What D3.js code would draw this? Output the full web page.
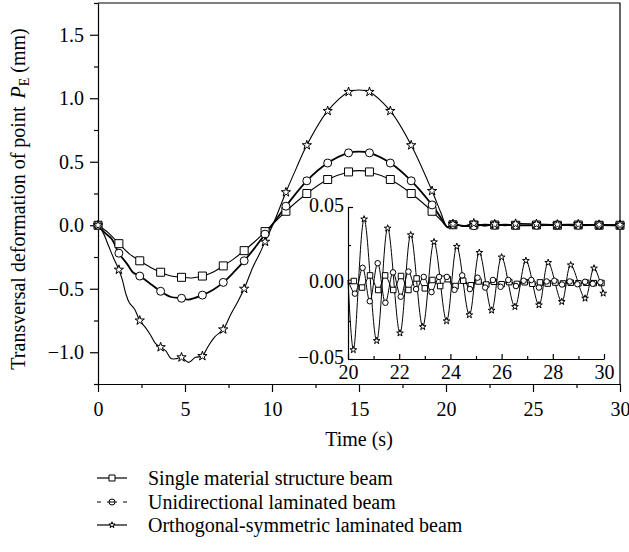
<!DOCTYPE html>
<html>
<head>
<meta charset="utf-8">
<script src="https://cdn.jsdelivr.net/npm/d3@7"></script>
<style>
  body { margin: 0; background: #fff; }
  svg { display: block; font-family: "Liberation Serif", "Times New Roman", serif; }
  .axis path, .axis line { stroke: #000; stroke-width: 1.2; }
  .axis text { font-size: 20px; fill: #000; font-family: "Liberation Serif", serif; }
</style>
</head>
<body>
<svg class="chart" width="629" height="552"></svg>
<script>
// ---- data ----
var seriesNames = [
  "Single material structure beam",
  "Unidirectional laminated beam",
  "Orthogonal-symmetric laminated beam"
];

// times (s) where the main plot carries markers
var markTimes = [0, 1.2, 2.4, 3.6, 4.8, 6.0, 7.2, 8.4, 9.6, 10.8, 12.0, 13.2, 14.4, 15.6,
  16.8, 18.0, 19.2, 20.4, 21.6, 22.8, 24.0, 25.2, 26.4, 27.6, 28.8, 30.0];

// main plot, [time, deformation mm]
var singleLine = [[0,0],[0.6,-0.06],[1.2,-0.145],[1.8,-0.225],[2.4,-0.28],[3.0,-0.33],[3.6,-0.37],
  [4.2,-0.40],[4.8,-0.41],[5.4,-0.415],[6.0,-0.40],[6.6,-0.37],[7.2,-0.32],[7.8,-0.265],[8.4,-0.20],
  [9.0,-0.13],[9.6,-0.05],[10.2,0.03],[10.8,0.11],[12.0,0.25],[13.2,0.36],[14.4,0.42],[15.0,0.43],
  [15.6,0.42],[16.8,0.36],[18.0,0.25],[19.2,0.11],[19.7,0.04],[20.1,-0.015],[20.4,0.004],[21.0,-0.004],
  [21.6,0.003],[22.2,-0.003],[22.8,0.002],[24.0,0.0],[25.2,0.002],[26.4,0.0],[27.6,0.002],[28.8,0.0],[30.0,0.0]];

var uniLine = [[0,0],[0.4,-0.06],[0.8,-0.11],[1.2,-0.22],[1.7,-0.31],[2.0,-0.37],[2.4,-0.40],[3.0,-0.46],
  [3.6,-0.52],[4.2,-0.565],[4.8,-0.575],[5.2,-0.585],[6.0,-0.55],[6.6,-0.51],[7.2,-0.45],[7.8,-0.37],
  [8.4,-0.28],[9.0,-0.18],[9.6,-0.07],[10.2,0.04],[10.8,0.15],[12.0,0.35],[13.2,0.49],[14.4,0.57],
  [15.0,0.58],[15.6,0.57],[16.8,0.49],[18.0,0.35],[19.2,0.16],[19.7,0.06],[20.1,-0.015],[20.4,0.006],
  [21.0,-0.006],[21.6,-0.004],[22.2,0.004],[22.8,0.0],[23.4,0.004],[24.0,0.0],[25.2,0.0],[26.4,0.003],
  [27.6,0.0],[28.8,0.002],[30.0,0.0]];

var orthoLine = [[0,0],[0.3,-0.06],[0.6,-0.16],[0.9,-0.26],[1.2,-0.35],[1.4,-0.43],[1.6,-0.54],[1.8,-0.61],
  [2.1,-0.66],[2.4,-0.75],[2.7,-0.80],[3.0,-0.86],[3.3,-0.93],[3.6,-0.96],[3.9,-0.99],[4.2,-1.05],
  [4.5,-1.05],[4.8,-1.04],[5.2,-1.08],[5.6,-1.04],[6.0,-1.03],[6.3,-0.96],[6.7,-0.88],[7.2,-0.82],
  [7.6,-0.71],[8.0,-0.61],[8.4,-0.50],[8.9,-0.33],[9.3,-0.22],[9.6,-0.13],[10.1,0.02],[10.8,0.26],
  [11.4,0.45],[12.0,0.63],[13.2,0.90],[14.4,1.05],[15.0,1.065],[15.6,1.05],[16.8,0.90],[18.0,0.63],
  [19.2,0.27],[19.7,0.10],[20.1,-0.02],[20.4,0.01],[21.0,-0.008],[21.6,0.015],[22.2,-0.005],[22.8,0.008],
  [23.4,-0.004],[24.0,0.012],[25.2,0.01],[26.4,0.006],[27.6,0.008],[28.8,0.004],[30.0,0.003]];

// inset (20–30 s), [time, deformation mm]
var insetSingle = [[20.0,0.002],[20.23,0.0013],[20.55,-0.003],[20.86,0.005],[21.18,-0.0046],[21.45,0.005],
  [21.77,-0.0046],[22.07,0.0046],[22.36,-0.0046],[22.68,0.003],[23.0,-0.0035],[23.3,0.002],[23.6,-0.002],
  [23.9,0.0025],[24.2,-0.002],[24.5,0.0015],[24.8,-0.0015],[25.1,0.001],[25.4,-0.001],[25.7,0.0008],
  [26.0,-0.0008],[26.3,0.0006],[26.6,-0.0006],[26.9,0.0005],[27.2,-0.0005],[27.5,0.0004],[27.8,-0.0004],
  [28.1,0.0003],[28.4,-0.0003],[28.7,0.0002],[29.0,-0.0002],[29.3,0.0002],[29.6,-0.0001],[29.9,0.0]];

var insetUni = [[20.0,0.002],[20.27,-0.007],[20.57,0.010],[20.85,-0.012],[21.16,0.013],[21.46,-0.013],
  [21.76,0.007],[22.06,-0.009],[22.36,0.0075],[22.66,-0.004],[22.96,0.004],[23.26,-0.006],[23.56,0.004],
  [23.86,0.004],[24.16,-0.0045],[24.46,0.005],[24.76,-0.004],[25.06,0.0035],[25.36,-0.003],[25.66,0.002],
  [25.96,-0.0025],[26.26,0.002],[26.56,-0.002],[26.86,0.0015],[27.16,0.002],[27.46,-0.003],[27.76,0.001],
  [28.06,0.0015],[28.36,-0.001],[28.66,0.001],[28.96,-0.0008],[29.26,0.0008],[29.56,-0.0005],[29.86,0.0005]];

var insetOrtho = [[20.0,0.002],[20.21,-0.044],[20.63,0.042],[21.12,-0.038],[21.55,0.036],[22.03,-0.033],
  [22.45,0.0316],[22.92,-0.0288],[23.36,0.027],[23.85,-0.025],[24.25,0.024],[24.74,-0.021],[25.13,0.020],
  [25.61,-0.018],[26.0,0.017],[26.52,-0.0156],[26.95,0.0147],[27.46,-0.0145],[27.82,0.0134],[28.35,-0.0123],
  [28.7,0.0118],[29.26,-0.0101],[29.61,0.0097],[29.97,-0.0068]];

var xTicks = [0, 5, 10, 15, 20, 25, 30];
var xMinor = [2.5, 7.5, 12.5, 17.5, 22.5, 27.5];
var yTicks = [-1.0, -0.5, 0.0, 0.5, 1.0, 1.5];
var yMinor = [-1.25, -0.75, -0.25, 0.25, 0.75, 1.25, 1.75];
var insetXTicks = [20, 22, 24, 26, 28, 30];
var insetXMinor = [21, 23, 25, 27, 29];
var insetYTicks = [-0.05, 0.0, 0.05];
var insetYMinor = [-0.025, 0.025];

// ---- drawing ----
var svg = d3.select(".chart");

var x = d3.scaleLinear().domain([0, 30]).range([98, 620]);
var y = d3.scaleLinear().domain([-1.25, 1.75]).range([384, 3]);

var xi = d3.scaleLinear().domain([20, 30]).range([348, 604]);
var yi = d3.scaleLinear().domain([-0.05, 0.05]).range([359, 207]);

var shapes = ["square", "circle", "star"];

function marker(sel, shape, s) {
  // s: overall size in px
  if (shape === "circle") {
    sel.append("circle").attr("r", s / 2);
  } else if (shape === "square") {
    sel.append("path").attr("d", d3.symbol(d3.symbolSquare, s * s)());
  } else {
    sel.append("path").attr("d", d3.symbol(d3.symbolStar, s * s * 0.33)());
  }
  sel.selectAll("circle, path")
    .attr("fill", "#fff")
    .attr("stroke", "#000")
    .attr("stroke-width", 1);
}

// frame (top + right)
svg.append("path")
  .attr("d", "M" + x(0) + "," + y(1.75) + "H" + x(30) + "V" + y(-1.25))
  .attr("fill", "none").attr("stroke", "#000").attr("stroke-width", 1.2);

// main axes
var gx = svg.append("g").attr("class", "axis")
  .attr("transform", "translate(0," + y(-1.25) + ")")
  .call(d3.axisBottom(x).tickValues(xTicks).tickSize(8).tickSizeOuter(0).tickFormat(d3.format("d")));
gx.selectAll("text").attr("y", 32).attr("dy", 0);
svg.append("g").attr("class", "axis")
  .attr("transform", "translate(0," + y(-1.25) + ")")
  .call(d3.axisBottom(x).tickValues(xMinor).tickSize(4).tickFormat(""))
  .select(".domain").remove();

var gy = svg.append("g").attr("class", "axis")
  .attr("transform", "translate(" + x(0) + ",0)")
  .call(d3.axisLeft(y).tickValues(yTicks).tickSize(8).tickSizeOuter(0).tickPadding(6).tickFormat(d3.format(".1f")));
svg.append("g").attr("class", "axis")
  .attr("transform", "translate(" + x(0) + ",0)")
  .call(d3.axisLeft(y).tickValues(yMinor).tickSize(4).tickFormat(""))
  .select(".domain").remove();

// axis titles
svg.append("text")
  .attr("x", 359).attr("y", 446)
  .attr("text-anchor", "middle")
  .style("font-size", "20px")
  .text("Time (s)");

var yt = svg.append("text")
  .attr("transform", "translate(25,199) rotate(-90)")
  .attr("text-anchor", "middle")
  .style("font-size", "20px");
yt.append("tspan").text("Transversal deformation of point");
yt.append("tspan").attr("dx", 8).style("font-style", "italic").text("P");
yt.append("tspan").attr("dy", 4).style("font-size", "14px").text("E");
yt.append("tspan").attr("dy", -4).text(" (mm)");

// main curves
var mainLines = [singleLine, uniLine, orthoLine];
var line = d3.line()
  .x(function(d) { return x(d[0]); })
  .y(function(d) { return y(d[1]); })
  .curve(d3.curveCatmullRom);

mainLines.forEach(function(data, i) {
  svg.append("path")
    .datum(data)
    .attr("d", line)
    .attr("fill", "none")
    .attr("stroke", "#000")
    .attr("stroke-width", i === 1 ? 1.8 : 1.1);
});

mainLines.forEach(function(data, i) {
  var pts = data.filter(function(d) { return markTimes.indexOf(d[0]) !== -1; });
  svg.append("g").selectAll("g")
    .data(pts)
    .enter().append("g")
    .attr("transform", function(d) { return "translate(" + x(d[0]) + "," + y(d[1]) + ")"; })
    .each(function() { marker(d3.select(this), shapes[i], i === 2 ? 9 : 8); });
});

// inset axes (ticks inward)
var gix = svg.append("g").attr("class", "axis")
  .attr("transform", "translate(0," + yi(-0.05) + ")")
  .call(d3.axisBottom(xi).tickValues(insetXTicks).tickSize(-5).tickSizeOuter(0).tickFormat(d3.format("d")));
gix.selectAll("text").attr("y", 20).attr("dy", 0);
svg.append("g").attr("class", "axis")
  .attr("transform", "translate(0," + yi(-0.05) + ")")
  .call(d3.axisBottom(xi).tickValues(insetXMinor).tickSize(-3).tickFormat(""))
  .select(".domain").remove();

var giy = svg.append("g").attr("class", "axis")
  .attr("transform", "translate(" + xi(20) + ",0)")
  .call(d3.axisLeft(yi).tickValues(insetYTicks).tickSize(-5).tickSizeOuter(0).tickPadding(4).tickFormat(d3.format(".2f")));
giy.selectAll("text").attr("dy", "0.2em");
svg.append("g").attr("class", "axis")
  .attr("transform", "translate(" + xi(20) + ",0)")
  .call(d3.axisLeft(yi).tickValues(insetYMinor).tickSize(-3).tickFormat(""))
  .select(".domain").remove();

var insetLines = [insetSingle, insetUni, insetOrtho];
var iline = d3.line()
  .x(function(d) { return xi(d[0]); })
  .y(function(d) { return yi(d[1]); })
  .curve(d3.curveCatmullRom);

insetLines.forEach(function(data, i) {
  svg.append("path")
    .datum(data)
    .attr("d", iline)
    .attr("fill", "none")
    .attr("stroke", "#000")
    .attr("stroke-width", 1);
});

insetLines.forEach(function(data, i) {
  svg.append("g").selectAll("g")
    .data(data.slice(1))
    .enter().append("g")
    .attr("transform", function(d) { return "translate(" + xi(d[0]) + "," + yi(d[1]) + ")"; })
    .each(function() { marker(d3.select(this), shapes[i], i === 2 ? 6.5 : 5.5); });
});

// legend
var legend = svg.append("g").attr("transform", "translate(97,0)");
var legendRowY = [478, 502, 525];
seriesNames.forEach(function(name, i) {
  var row = legend.append("g").attr("transform", "translate(0," + legendRowY[i] + ")");
  row.append("line")
    .attr("x1", 0).attr("x2", 30)
    .attr("stroke", "#000").attr("stroke-width", 1.2)
    .attr("stroke-dasharray", i === 1 ? "4 6 10 6 4" : null);
  marker(row.append("g").attr("transform", "translate(15,0)"), shapes[i], 6);
  if (i === 1) {
    row.append("line").attr("x1", 12).attr("x2", 18)
      .attr("stroke", "#000").attr("stroke-width", 1);
  }
  row.append("text")
    .attr("x", 51).attr("y", 7)
    .style("font-size", "20px")
    .text(name);
});
</script>
</body>
</html>
